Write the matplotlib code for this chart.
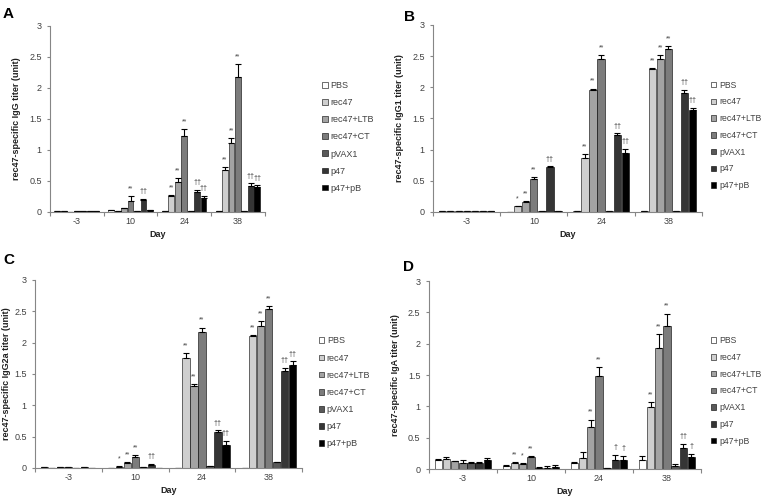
import numpy as np
import matplotlib
matplotlib.use("Agg")
from matplotlib import pyplot as plt

days = ["-3", "10", "24", "38"]
groups = ["PBS", "rec47", "rec47+LTB", "rec47+CT", "pVAX1", "p47", "p47+pB"]
colors = ["#ffffff", "#cfcfcf", "#a3a3a3", "#7c7c7c", "#595959", "#353535", "#000000"]

# values per group, one list per day
igg = [[0.01, 0.01, 0.005, 0.01, 0.01, 0.01, 0.01],
       [0.03, 0.02, 0.06, 0.18, 0.01, 0.19, 0.03],
       [0.01, 0.25, 0.49, 1.22, 0.01, 0.32, 0.22],
       [0.01, 0.68, 1.12, 2.17, 0.02, 0.42, 0.41]]
igg_err = [[0, 0, 0, 0, 0, 0, 0],
           [0.01, 0, 0.01, 0.07, 0, 0.02, 0],
           [0, 0.03, 0.06, 0.12, 0, 0.04, 0.04],
           [0, 0.04, 0.07, 0.22, 0, 0.04, 0.02]]
igg_sig = [["", "", "", "", "", "", ""],
           ["", "", "", "**", "", "††", ""],
           ["", "**", "**", "**", "", "††", "††"],
           ["", "**", "**", "**", "", "††", "††"]]

igg1 = [[0.01, 0.01, 0.01, 0.015, 0.01, 0.01, 0.02],
        [0.005, 0.09, 0.16, 0.53, 0.01, 0.72, 0.02],
        [0.01, 0.86, 1.95, 2.45, 0.01, 1.23, 0.94],
        [0.01, 2.29, 2.45, 2.62, 0.02, 1.91, 1.63]]
igg1_err = [[0, 0, 0, 0, 0, 0, 0],
            [0, 0.01, 0.01, 0.03, 0, 0.01, 0],
            [0, 0.07, 0.03, 0.07, 0, 0.03, 0.07],
            [0, 0.02, 0.07, 0.04, 0, 0.05, 0.04]]
igg1_sig = [["", "", "", "", "", "", ""],
            ["", "*", "**", "**", "", "††", ""],
            ["", "**", "**", "**", "", "††", "††"],
            ["", "**", "**", "**", "", "††", "††"]]

igg2a = [[0.01, 0.005, 0.01, 0.01, 0.005, 0.02, 0.005],
         [0.005, 0.02, 0.08, 0.17, 0.01, 0.05, 0.005],
         [0.005, 1.76, 1.31, 2.17, 0.03, 0.57, 0.37],
         [0.005, 2.10, 2.26, 2.54, 0.09, 1.55, 1.65]]
igg2a_err = [[0, 0, 0, 0, 0, 0, 0],
             [0, 0.01, 0.01, 0.03, 0, 0.01, 0],
             [0, 0.08, 0.03, 0.07, 0, 0.03, 0.06],
             [0, 0.02, 0.08, 0.04, 0.01, 0.05, 0.05]]
igg2a_sig = [["", "", "", "", "", "", ""],
             ["", "*", "**", "**", "", "††", ""],
             ["", "**", "**", "**", "", "††", "††"],
             ["", "**", "**", "**", "", "††", "††"]]

iga = [[0.14, 0.16, 0.12, 0.10, 0.10, 0.10, 0.14],
       [0.05, 0.10, 0.08, 0.19, 0.02, 0.02, 0.03],
       [0.10, 0.17, 0.67, 1.48, 0.01, 0.15, 0.15],
       [0.14, 0.99, 1.93, 2.28, 0.05, 0.33, 0.19]]
iga_err = [[0.02, 0.03, 0.01, 0.04, 0.01, 0.01, 0.04],
           [0.01, 0.01, 0.01, 0.01, 0.01, 0.03, 0.03],
           [0.01, 0.10, 0.12, 0.15, 0.01, 0.07, 0.06],
           [0.06, 0.08, 0.22, 0.20, 0.03, 0.07, 0.05]]
iga_sig = [["", "", "", "", "", "", ""],
           ["", "**", "*", "**", "", "", ""],
           ["", "", "**", "**", "", "†", "†"],
           ["", "**", "**", "**", "", "††", "†"]]

panels = [
    ("A", "rec47-specific IgG titer (unit)", igg, igg_err, igg_sig,
     [0.0655, 0.5726, 0.2815, 0.375], (0.004, 0.985), (0.412, 0.853)),
    ("B", "rec47-specific IgG1 titer (unit)", igg1, igg1_err, igg1_sig,
     [0.5675, 0.5726, 0.3525, 0.377], (0.530, 0.98), (0.922, 0.853)),
    ("C", "rec47-specific IgG2a titer (unit)", igg2a, igg2a_err, igg2a_sig,
     [0.0459, 0.0565, 0.350, 0.379], (0.004, 0.49), (0.407, 0.338)),
    ("D", "rec47-specific IgA titer (unit)", iga, iga_err, iga_sig,
     [0.562, 0.0544, 0.3567, 0.379], (0.528, 0.475), (0.922, 0.338)),
]

fig = plt.figure(figsize=(7.63, 4.96), dpi=100)
plt.rcParams['font.family'] = ['Liberation Sans', 'DejaVu Sans']
txtc = "#404040"
x = np.arange(len(days))
bw = 0.108

for letter, ylab, vals, errs, sigs, rect, lpos, legpos in panels:
    ax = fig.add_axes(rect)
    vals = np.array(vals)
    errs = np.array(errs)
    handles = []
    for j, g in enumerate(groups):
        xs = x + (j - 3) * (bw + 0.012)
        b = ax.bar(xs, vals[:, j], bw, color=colors[j], edgecolor="black",
                   linewidth=0.4, label=g)
        ax.errorbar(xs, vals[:, j], yerr=[np.zeros(4), errs[:, j]], fmt="none",
                    ecolor="black", elinewidth=0.8, capsize=2.2, capthick=0.8)
        handles.append(b)
        for i in range(4):
            if sigs[i][j]:
                fs = 5 if "*" in sigs[i][j] else 5.2
                ax.text(xs[i], vals[i, j] + errs[i, j] + 0.06, sigs[i][j],
                        ha="center", va="bottom", fontsize=fs, color=txtc)
    ax.set_xlim(-0.5, 3.5)
    ax.set_ylim(0, 3)
    ax.set_yticks([0, 0.5, 1, 1.5, 2, 2.5, 3])
    ax.set_yticklabels(["0", "0.5", "1", "1.5", "2", "2.5", "3"])
    ax.set_xticks(np.arange(-0.5, 4, 1))
    ax.set_xticklabels([])
    ax.set_xticks(x, minor=True)
    ax.set_xticklabels(days, minor=True)
    ax.tick_params(axis="x", which="major", length=3, color="#868686", direction="out")
    ax.tick_params(axis="x", which="minor", length=0, labelsize=6.5, colors=txtc)
    ax.tick_params(axis="y", length=2.5, color="#868686", labelsize=6.5, labelcolor=txtc)
    for s in ["top", "right"]:
        ax.spines[s].set_visible(False)
    for s in ["left", "bottom"]:
        ax.spines[s].set_color("#868686")
        ax.spines[s].set_linewidth(0.8)
    ax.set_xlabel("Day", fontsize=6.5, fontweight="bold", color="#202020", labelpad=3)
    ax.set_ylabel(ylab, fontsize=6.5, fontweight="bold", color="#202020",
                  labelpad=2 if letter == "C" else 6)
    fig.text(lpos[0], lpos[1], letter, fontsize=11, fontweight="bold", va="top")
    fig.legend(handles=handles, loc="upper left", bbox_to_anchor=legpos, frameon=False,
               fontsize=6.2 if letter in "BD" else 6.5, handlelength=0.6, handleheight=0.6,
               handletextpad=0.3, labelspacing=0.9, labelcolor=txtc)

fig.savefig("out.png", dpi=100)
